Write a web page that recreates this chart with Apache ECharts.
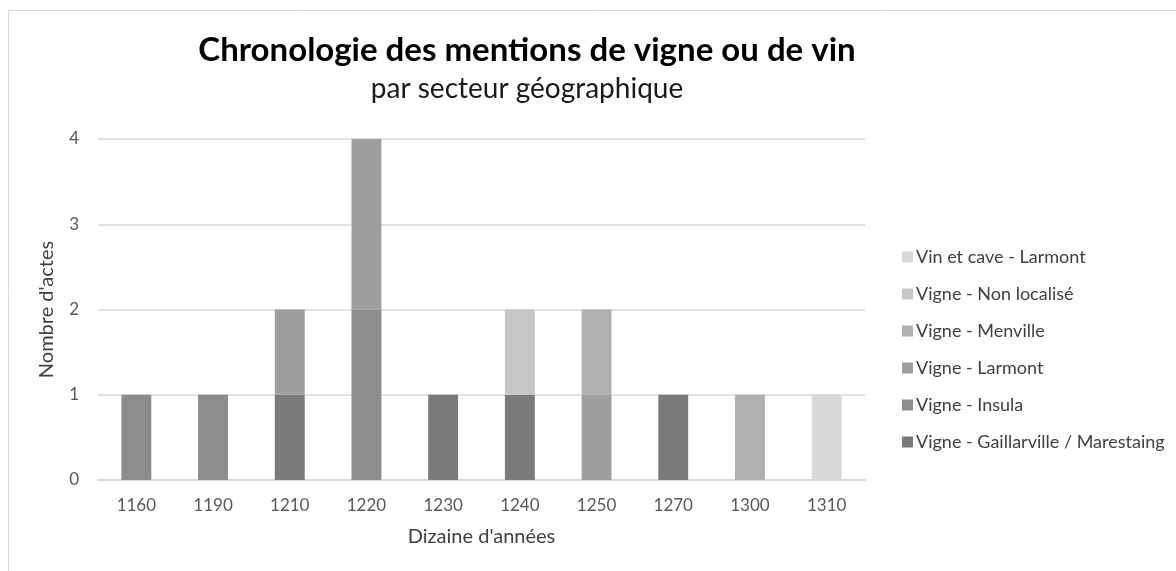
<!DOCTYPE html>
<html>
<head>
<meta charset="utf-8">
<script src="https://cdn.jsdelivr.net/npm/echarts@6/dist/echarts.min.js"></script>
<style>
  html, body { margin: 0; padding: 0; background: #fff; }
  #chart { width: 1176px; height: 571px; }
</style>
</head>
<body>
<div id="chart"></div>
<script>
// decades on the x axis
const decades = ['1160', '1190', '1210', '1220', '1230', '1240', '1250', '1270', '1300', '1310'];

// one array per sector, stacked from the bottom up
const gaillarville = [0, 0, 1, 0, 1, 1, 0, 1, 0, 0];
const insula       = [1, 1, 0, 2, 0, 0, 0, 0, 0, 0];
const larmont      = [0, 0, 1, 2, 0, 0, 1, 0, 0, 0];
const menville     = [0, 0, 0, 0, 0, 0, 1, 0, 1, 0];
const nonLocalise  = [0, 0, 0, 0, 0, 1, 0, 0, 0, 0];
const vinCave      = [0, 0, 0, 0, 0, 0, 0, 0, 0, 1];

const yTicks = [0, 1, 2, 3, 4];

const sectors = [
  { name: 'Vigne - Gaillarville / Marestaing', data: gaillarville, color: '#7a7a7a' },
  { name: 'Vigne - Insula', data: insula, color: '#8c8c8c' },
  { name: 'Vigne - Larmont', data: larmont, color: '#9e9e9e' },
  { name: 'Vigne - Menville', data: menville, color: '#b0b0b0' },
  { name: 'Vigne - Non localisé', data: nonLocalise, color: '#c6c6c6' },
  { name: 'Vin et cave - Larmont', data: vinCave, color: '#d8d8d8' }
];

const font = 'Lato, "Open Sans", sans-serif';

const chart = echarts.init(document.getElementById('chart'));

chart.setOption({
  animation: false,
  backgroundColor: '#fff',
  textStyle: { fontFamily: font },
  graphic: [{
    type: 'rect',
    shape: { x: 8.5, y: 10.5, width: 1200, height: 600 },
    style: { fill: 'none', stroke: '#d9d9d9', lineWidth: 1 },
    silent: true
  }],
  title: {
    text: 'Chronologie des mentions de vigne ou de vin',
    subtext: 'par secteur géographique',
    left: 522,
    textAlign: 'center',
    top: 29,
    itemGap: 8,
    textStyle: { fontFamily: font, fontSize: 33, fontWeight: 'bold', color: '#000' },
    subtextStyle: { fontFamily: font, fontSize: 28, color: '#1a1a1a' }
  },
  legend: {
    orient: 'vertical',
    left: 897,
    top: 242,
    itemWidth: 11,
    itemHeight: 11,
    itemGap: 17,
    icon: 'rect',
    data: sectors.map(s => s.name).reverse(),
    textStyle: { fontFamily: font, fontSize: 18, color: '#404040', lineHeight: 20, padding: [0, 0, 0, -2] }
  },
  grid: { left: 98, right: 311, top: 139, bottom: 91, containLabel: false },
  xAxis: {
    type: 'category',
    data: decades,
    name: "Dizaine d'années",
    nameLocation: 'middle',
    nameGap: 47,
    nameTextStyle: { fontFamily: font, fontSize: 20, color: '#404040' },
    axisLine: { lineStyle: { color: '#d9d9d9', width: 1.5 } },
    axisTick: { show: false },
    axisLabel: { fontSize: 17, color: '#595959', margin: 17 }
  },
  yAxis: {
    type: 'value',
    min: yTicks[0],
    max: yTicks[yTicks.length - 1],
    interval: 1,
    name: "Nombre d'actes",
    nameLocation: 'middle',
    nameGap: 41,
    nameTextStyle: { fontFamily: font, fontSize: 20, color: '#404040' },
    axisLine: { show: false },
    axisTick: { show: false },
    axisLabel: { fontSize: 17, color: '#595959', margin: 19 },
    splitLine: { lineStyle: { color: '#d9d9d9', width: 1.5 } }
  },
  series: sectors.map(s => ({
    name: s.name,
    type: 'bar',
    stack: 'total',
    barWidth: '39%',
    data: s.data.map(v => (v === 0 ? null : v)),
    itemStyle: { color: s.color }
  }))
});
</script>
</body>
</html>
